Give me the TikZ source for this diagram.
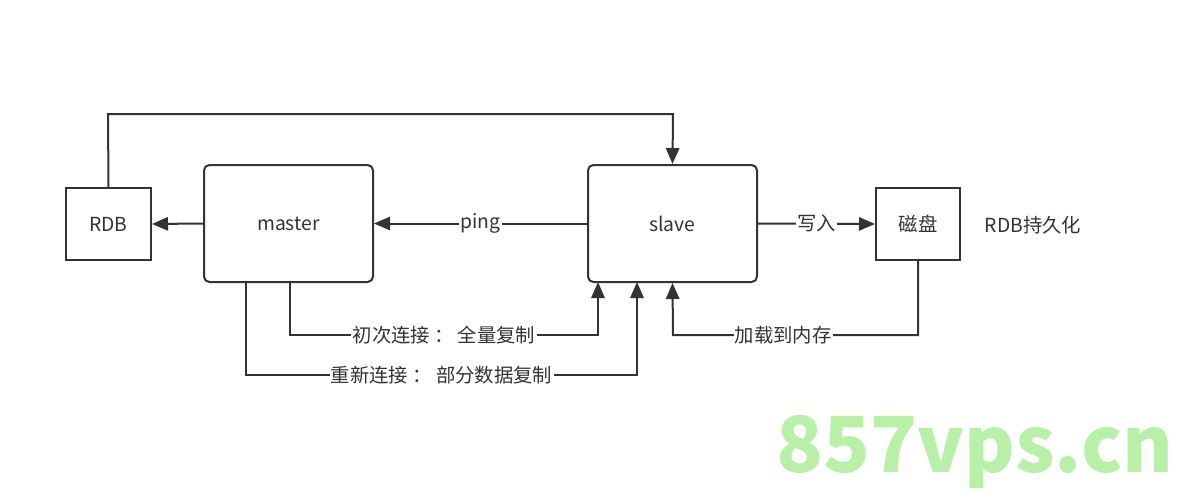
\documentclass[tikz,border=0pt]{standalone}
\usepackage{fontspec}
\setmainfont{Noto Sans CJK SC}
\usetikzlibrary{arrows.meta}
\definecolor{ln}{HTML}{333333}
\definecolor{wm}{HTML}{B8F0A8}
\begin{document}
\begin{tikzpicture}[x=0.75pt,y=-0.75pt,
  box/.style={draw=ln,line width=1.5pt,text=ln,font=\fontsize{14.5}{16}\selectfont},
  conn/.style={draw=ln,line width=1.5pt,-{Triangle[length=12pt,width=10pt]}},
  lab/.style={fill=white,text=ln,inner sep=1pt,font=\fontsize{14.5}{16}\selectfont}]
\useasboundingbox (0,0) rectangle (1190,500);
\node[box,minimum width=63.75pt,minimum height=54pt] (rdb) at (108.5,224) {RDB};
\node[box,rounded corners=4pt,minimum width=126.75pt,minimum height=87.75pt] (master) at (288.5,223.5) {master};
\node[box,rounded corners=4pt,minimum width=126.75pt,minimum height=87.75pt] (slave) at (672.5,223.5) {slave};
\node[box,minimum width=63pt,minimum height=54pt] (disk) at (918,224) {磁盘};
\node[text=ln,font=\fontsize{14.5}{16}\selectfont] (per) at (1033,225) {RDB持久化};
\coordinate (t1) at (108,114);
\coordinate (t2) at (673,114);
\draw[conn] (rdb.north) -- (t1) -- (t2) -- (slave.north);
\draw[conn] (master.west) -- (rdb.east);
\draw[conn] (slave.west) -- node[lab] {ping} (master.east);
\draw[conn] (slave.east) -- node[lab] {写入} (disk.west);
\coordinate (d1) at (918,335);
\coordinate (d2) at (673,335);
\draw[conn] (disk.south) -- (d1) -- node[lab,pos=0.55] {加载到内存} (d2) -- (slave.south);
\coordinate (m1a) at (290,282);
\coordinate (m1b) at (290,335);
\coordinate (m1c) at (598,335);
\coordinate (m1d) at (598,282);
\draw[conn] (m1a) -- (m1b) -- node[lab,pos=0.5] {初次连接 ： 全量复制} (m1c) -- (m1d);
\coordinate (m2a) at (246,282);
\coordinate (m2b) at (246,375);
\coordinate (m2c) at (637,375);
\coordinate (m2d) at (637,282);
\draw[conn] (m2a) -- (m2b) -- node[lab,pos=0.5] {重新连接 ： 部分数据复制} (m2c) -- (m2d);
\node[text=wm,font=\fontsize{58}{62}\selectfont\bfseries] (wmk) at (975,452) {857vps.cn};
\end{tikzpicture}
\end{document}
